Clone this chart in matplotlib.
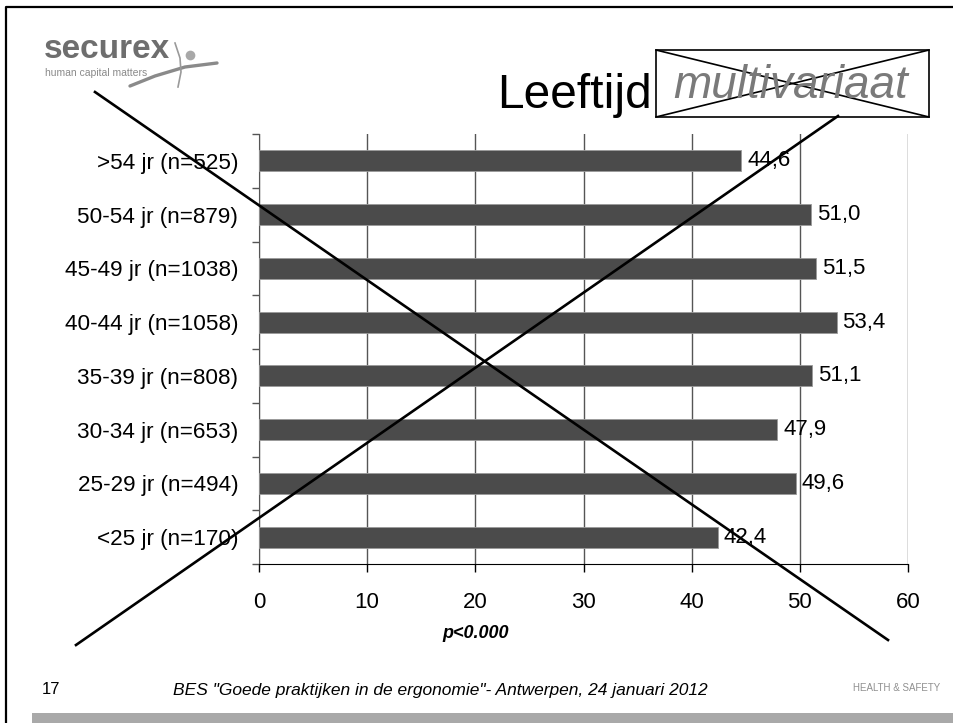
import matplotlib
matplotlib.use("Agg")
import matplotlib.pyplot as plt
from matplotlib.lines import Line2D
from matplotlib.patches import Rectangle

categories = ["<25 jr (n=170)", "25-29 jr (n=494)", "30-34 jr (n=653)", "35-39 jr (n=808)",
              "40-44 jr (n=1058)", "45-49 jr (n=1038)", "50-54 jr (n=879)", ">54 jr (n=525)"]
values = [42.4, 49.6, 47.9, 51.1, 53.4, 51.5, 51.0, 44.6]
xticks = [0, 10, 20, 30, 40, 50, 60]

W, H = 954, 723
plt.rcParams["font.family"] = ["Liberation Sans", "DejaVu Sans"]
fig = plt.figure(figsize=(W / 100, H / 100), dpi=100)


def fx(px):
    return px / W


def fy(py):
    return 1 - py / H


ax = fig.add_axes([fx(259), fy(564), fx(908) - fx(259), fy(134) - fy(564)])
ypos = list(range(len(categories)))
ax.barh(ypos, values, height=0.39, color="#4b4b4b", edgecolor="#9a9a9a", linewidth=0.6, zorder=3)
for y, v in zip(ypos, values):
    ax.text(v + 0.55, y, f"{v:.1f}".replace(".", ","), va="center", ha="left", fontsize=16, zorder=4)

ax.set_xlim(0, 60)
ax.set_ylim(-0.5, len(categories) - 0.5)
ax.set_xticks(xticks)
ax.set_xticklabels([str(t) for t in xticks], fontsize=16)
ax.set_yticks(ypos)
ax.set_yticklabels(categories, fontsize=16.2)
ax.tick_params(axis="y", length=0, pad=15)
# minor ticks on the category axis mark the band boundaries
ax.set_yticks([i - 0.5 for i in range(len(categories) + 1)], minor=True)
ax.tick_params(axis="y", which="minor", length=5, color="#555555", width=1)
ax.tick_params(axis="x", length=6, width=1, color="black", pad=14)
ax.grid(axis="x", color="#555555", linewidth=1.0, zorder=0)
for s in ["top", "right"]:
    ax.spines[s].set_visible(False)
ax.spines["left"].set_color("#555555")
ax.spines["bottom"].set_color("black")

# p-value note
fig.text(fx(476), fy(633), "p<0.000", fontsize=13, fontweight="bold", fontstyle="italic",
         ha="center", va="center")

# title
fig.text(fx(652), fy(95), "Leeftijd", fontsize=34.5, ha="right", va="center")
fig.text(fx(791), fy(86), "multivariaat", fontsize=33, fontstyle="italic", color="#7a7a7a",
         ha="center", va="center")
fig.add_artist(Rectangle((fx(656), fy(117)), fx(929) - fx(656), fy(50) - fy(117),
                         transform=fig.transFigure, fill=False, edgecolor="black", linewidth=1.2))
fig.add_artist(Line2D([fx(656), fx(929)], [fy(50), fy(117)], color="black", linewidth=1.2))
fig.add_artist(Line2D([fx(656), fx(929)], [fy(117), fy(50)], color="black", linewidth=1.2))

# big cross over the chart
fig.add_artist(Line2D([fx(95), fx(888)], [fy(92), fy(640)], color="black", linewidth=1.9, zorder=10))
fig.add_artist(Line2D([fx(76), fx(838)], [fy(645), fy(116)], color="black", linewidth=1.9, zorder=10))

# logo
fig.text(fx(44), fy(58), "securex", fontsize=24, fontweight="bold", color="#6e6e6e",
         ha="left", va="baseline")
fig.text(fx(45), fy(76), "human capital matters", fontsize=7.5, color="#8a8a8a",
         ha="left", va="baseline")
fig.add_artist(Line2D([fx(130), fx(155), fx(185), fx(217)], [fy(86), fy(76), fy(67), fy(63)],
                      color="#8a8a8a", linewidth=2.4, solid_capstyle="round"))
fig.add_artist(Line2D([fx(175), fx(180), fx(181), fx(178)], [fy(43), fy(58), fy(72), fy(87)],
                      color="#9a9a9a", linewidth=1.2))
fig.add_artist(Line2D([fx(190)], [fy(55)], marker="o", markersize=7, color="#a8a8a8",
                      markeredgewidth=0))

# footer
fig.text(fx(42), fy(690), "17", fontsize=12, ha="left", va="center")
fig.text(fx(440), fy(690), 'BES "Goede praktijken in de ergonomie"- Antwerpen, 24 januari 2012',
         fontsize=12.5, fontstyle="italic", ha="center", va="center")
fig.text(fx(940), fy(688), "HEALTH & SAFETY", fontsize=7, color="#909090", ha="right", va="center")
fig.add_artist(Rectangle((fx(32), 0), 1 - fx(32), fy(713), transform=fig.transFigure,
                         facecolor="#a9a9a9", edgecolor="none"))

# slide frame
fig.add_artist(Line2D([fx(6), fx(6), 1], [0, fy(7), fy(7)], color="black", linewidth=1.6))

fig.savefig("out.png", dpi=100)
